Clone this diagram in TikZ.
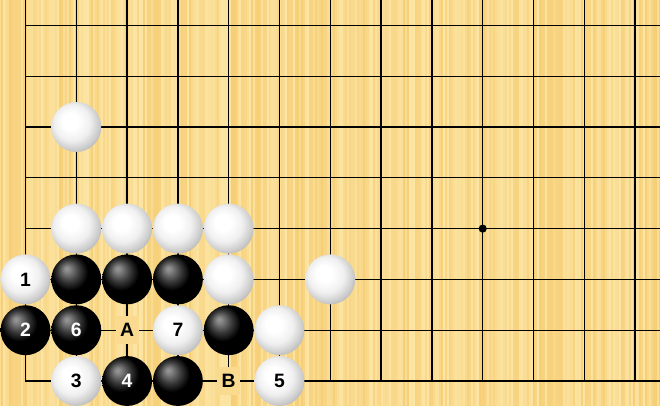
\documentclass[tikz,border=0pt]{standalone}
\usepackage{fontspec}
\setmainfont{Liberation Sans}
\usetikzlibrary{positioning}

\definecolor{boardcolor}{RGB}{249,218,142}
\definecolor{darkstripe}{RGB}{246,206,118}
\definecolor{lightstripe}{RGB}{252,230,166}

\pgfdeclareradialshading{whiteball}{\pgfpoint{-7bp}{7bp}}{color(0bp)=(white); color(8bp)=(white); color(18bp)=(black!6); color(26bp)=(black!20); color(34bp)=(black!38); color(50bp)=(black!38)}
\pgfdeclareradialshading{blackball}{\pgfpoint{-10bp}{11bp}}{color(0bp)=(black!40); color(3bp)=(black!48); color(11bp)=(black!78); color(18bp)=(black); color(31bp)=(black); color(38bp)=(black!78); color(50bp)=(black!78)}

\begin{document}
\begin{tikzpicture}[x=1.016cm, y=1.016cm,
whitestone/.style={circle, shade, shading=whiteball, minimum size=28.4pt, inner sep=0pt, text=black, font=\fontsize{11}{13}\selectfont\bfseries},
blackstone/.style={circle, shade, shading=blackball, minimum size=28.4pt, inner sep=0pt, text=white, font=\fontsize{11}{13}\selectfont\bfseries},
letter/.style={rectangle, fill=boardcolor, minimum width=13pt, minimum height=16pt, inner sep=0pt, font=\fontsize{11}{13}\selectfont\bfseries},
gridline/.style={line width=0.75pt, black},
]
\useasboundingbox (-0.502,-0.492) rectangle (12.490,7.5);

%Board
\fill[boardcolor] (-0.502,-0.492) rectangle (12.490,7.5);
\pgfmathsetseed{17}
\foreach \i in {0,...,330}{
  \pgfmathrandominteger{\s}{0}{100}
  \draw[darkstripe!\s!lightstripe, line width=1.2pt] (-0.502+0.03937*\i,-0.492) -- ++(0,7.992);
}
\foreach \c in {1,...,12} \draw[gridline] (\c,0) -- (\c,7.5);
\foreach \r in {1,...,7} \draw[gridline] (0,\r) -- (12.49,\r);
\draw[gridline] (0,7.5) -- (0,0) -- (12.49,0);
\fill (9,3) circle (0.08);

%White stones
\node[whitestone] (w0) at (1,5) {};
\node[whitestone] (w1) at (1,3) {};
\node[whitestone] (w2) at (2,3) {};
\node[whitestone] (w3) at (3,3) {};
\node[whitestone] (w4) at (4,3) {};
\node[whitestone] (w5) at (4,2) {};
\node[whitestone] (w6) at (6,2) {};
\node[whitestone] (w8) at (5,1) {};
\node[whitestone] (m1) at (0,2) {1};
\node[whitestone] (m3) at (1,0) {3};
\node[whitestone] (m5) at (5,0) {5};
\node[whitestone] (m7) at (3,1) {7};

%Black stones
\node[blackstone] (b1) at (1,2) {};
\node[blackstone] (b2) at (2,2) {};
\node[blackstone] (b3) at (3,2) {};
\node[blackstone] (b4) at (4,1) {};
\node[blackstone] (b5) at (3,0) {};
\node[blackstone] (m2) at (0,1) {2};
\node[blackstone] (m4) at (2,0) {4};
\node[blackstone] (m6) at (1,1) {6};

%Letters
\node[letter] (la) at (2,1) {A};
\node[letter] (lb) at (4,0) {B};
\end{tikzpicture}
\end{document}
